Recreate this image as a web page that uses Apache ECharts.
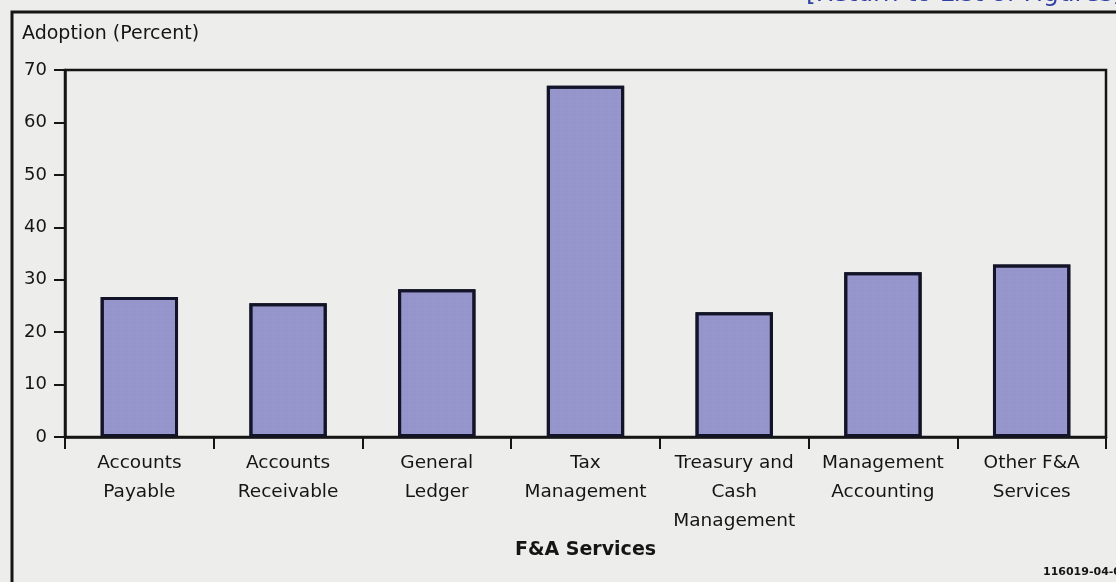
<!DOCTYPE html>
<html>
<head>
<meta charset="utf-8">
<script src="https://cdn.jsdelivr.net/npm/echarts@6/dist/echarts.min.js"></script>
<style>
  html, body { margin: 0; padding: 0; background: #ededeb; }
  #chart { width: 1116px; height: 582px; }
</style>
</head>
<body>
<div id="chart"></div>
<script>
// F&A service categories (two- or three-line labels)
const categories = [
  'Accounts\nPayable',
  'Accounts\nReceivable',
  'General\nLedger',
  'Tax\nManagement',
  'Treasury and\nCash\nManagement',
  'Management\nAccounting',
  'Other F&A\nServices'
];
// Adoption in percent
const adoption = [26.7, 25.5, 28.2, 67.0, 23.8, 31.4, 32.9];
const yTicks = { min: 0, max: 70, interval: 10 };
const yAxisTitle = 'Adoption (Percent)';
const xAxisTitle = 'F&A Services';
const figureId = '116019-04-01';
const linkText = '[Return to List of Figures]';

const FONT = 'DejaVu Sans';
const INK = '#151515';

const chart = echarts.init(document.getElementById('chart'), null, { renderer: 'canvas' });

chart.setOption({
  backgroundColor: '#ededeb',
  animation: false,
  grid: {
    left: 65, right: 10, top: 70, bottom: 145,
    show: true,
    borderColor: INK,
    borderWidth: 2.5,
    backgroundColor: 'transparent'
  },
  xAxis: {
    type: 'category',
    data: categories,
    boundaryGap: true,
    name: xAxisTitle,
    nameLocation: 'middle',
    nameGap: 104,
    nameTextStyle: { fontFamily: FONT, fontSize: 19, fontWeight: 'bold', color: INK },
    axisLine: { lineStyle: { color: INK, width: 2.5 } },
    axisTick: { show: true, length: 12, alignWithLabel: false, lineStyle: { color: INK, width: 2 } },
    axisLabel: {
      interval: 0,
      margin: 12,
      fontFamily: FONT,
      fontSize: 18.5,
      lineHeight: 29,
      color: INK
    },
    splitLine: { show: false }
  },
  yAxis: {
    type: 'value',
    min: yTicks.min,
    max: yTicks.max,
    interval: yTicks.interval,
    axisLine: { show: true, lineStyle: { color: INK, width: 2.5 } },
    axisTick: { show: true, length: 11, inside: false, lineStyle: { color: INK, width: 2 } },
    axisLabel: { margin: 18, fontFamily: FONT, fontSize: 18, color: INK },
    splitLine: { show: false }
  },
  series: [{
    type: 'bar',
    data: adoption,
    barWidth: '52%',
    itemStyle: {
      color: '#9595cc',
      borderColor: '#141428',
      borderWidth: 3,
      decal: {
        symbol: 'circle',
        symbolSize: 0.45,
        dashArrayX: [[4, 4]],
        dashArrayY: [2, 2],
        color: 'rgba(225,225,245,0.45)',
        rotation: 0
      }
    }
  }],
  graphic: [
    {
      // outer page frame
      type: 'rect',
      silent: true,
      shape: { x: 12, y: 12, width: 1200, height: 700 },
      style: { fill: 'none', stroke: INK, lineWidth: 3 }
    },
    {
      type: 'text',
      silent: true,
      left: 22, top: 25,
      style: { text: yAxisTitle, font: '19px "' + FONT + '"', fill: INK }
    },
    {
      type: 'text',
      silent: true,
      left: 1043, top: 567,
      style: { text: figureId, font: 'bold 11px "' + FONT + '"', fill: INK }
    },
    {
      type: 'text',
      silent: true,
      x: 806, y: 7,
      style: {
        text: linkText,
        font: '25px "' + FONT + '"',
        fill: '#2f3fa8',
        textVerticalAlign: 'bottom',
        textAlign: 'left'
      }
    }
  ]
});
</script>
</body>
</html>
